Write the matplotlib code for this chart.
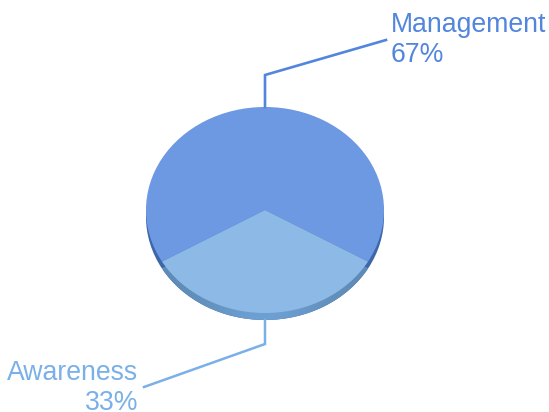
import numpy as np
import matplotlib
matplotlib.use("Agg")
import matplotlib.pyplot as plt

labels = ["Management", "Awareness"]
shares = [66.7, 33.3]
top_colors = ["#6d98e2", "#8db9e6"]
text_colors = ["#5286dd", "#7ab0e8"]
rim_color = "#3c67a9"

W, H = 549, 412
CX, CY = 265, 210
RX, RY = 119, 103
DEPTH = 7
FONT = 19.2


def to_data(px, py):
    return (np.asarray(px) - CX) / RX, (CY - np.asarray(py)) / RY


plt.rcParams["font.family"] = ["Liberation Sans", "DejaVu Sans"]
fig = plt.figure(figsize=(W / 100, H / 100), dpi=100)
ax = fig.add_axes([0, 0, 1, 1])

# awareness wedge is centred on the bottom of the pie
start = 270 - 360 * shares[1] / sum(shares) / 2 + 360 * shares[1] / sum(shares)

# rim: same pie pushed down a few pixels
rim, _ = ax.pie(shares, colors=[rim_color, rim_color], startangle=start, radius=1,
                center=(0, -DEPTH / RY), wedgeprops={"linewidth": 0})
grad = np.array([[0.0, 0.45, 1.0, 0.45, 0.0]])
img = ax.imshow(grad, extent=(-0.86, 0.86, -1.2, 0), aspect="auto", zorder=1.5,
                cmap=matplotlib.colors.LinearSegmentedColormap.from_list("rim", ["#5f8cb6", "#70a4da"]),
                interpolation="bicubic")
img.set_clip_path(rim[1])

# top face
ax.pie(shares, colors=top_colors, startangle=start, radius=1, center=(0, 0),
       wedgeprops={"linewidth": 0, "zorder": 2})

# leader lines
x, y = to_data([265, 265, 386], [107, 75, 40])
ax.plot(x, y, color=text_colors[0], lw=1.9, solid_joinstyle="miter", zorder=3)
x, y = to_data([265, 265, 144], [320, 344, 387])
ax.plot(x, y, color=text_colors[1], lw=1.8, solid_joinstyle="miter", zorder=3)

x, y = to_data(391, 32)
ax.text(x, y, labels[0], color=text_colors[0], fontsize=FONT, ha="left", va="baseline")
x, y = to_data(391, 62)
ax.text(x, y, f"{round(shares[0])}%", color=text_colors[0], fontsize=FONT, ha="left", va="baseline")
x, y = to_data(138, 380)
ax.text(x, y, labels[1], color=text_colors[1], fontsize=FONT, ha="right", va="baseline")
x, y = to_data(138, 410)
ax.text(x, y, f"{round(shares[1])}%", color=text_colors[1], fontsize=FONT, ha="right", va="baseline")

x0, y0 = to_data(0, H)
x1, y1 = to_data(W, 0)
ax.set_aspect("auto")
ax.set_xlim(x0, x1)
ax.set_ylim(y0, y1)
ax.axis("off")

fig.savefig("out.png", dpi=100, facecolor="white")
